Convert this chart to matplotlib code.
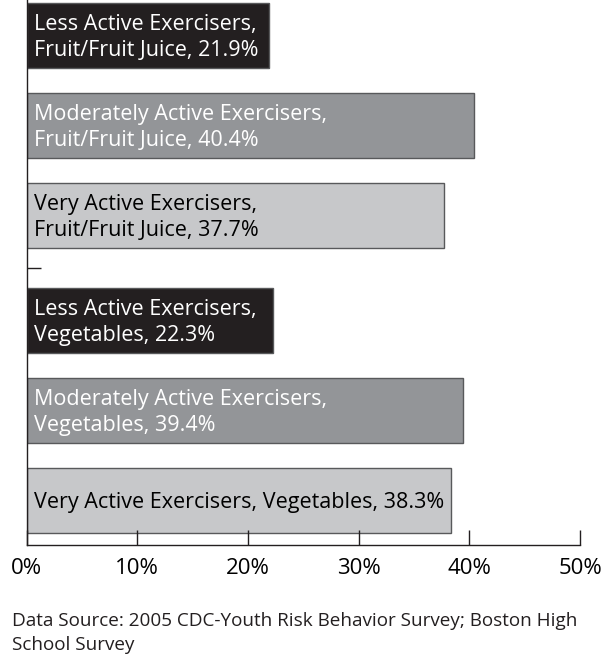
import matplotlib
matplotlib.use("Agg")
import matplotlib.pyplot as plt

# data
labels = [
    "Less Active Exercisers,\nFruit/Fruit Juice, 21.9%",
    "Moderately Active Exercisers,\nFruit/Fruit Juice, 40.4%",
    "Very Active Exercisers,\nFruit/Fruit Juice, 37.7%",
    "Less Active Exercisers,\nVegetables, 22.3%",
    "Moderately Active Exercisers,\nVegetables, 39.4%",
    "Very Active Exercisers, Vegetables, 38.3%",
]
values = [21.9, 40.4, 37.7, 22.3, 39.4, 38.3]
levels = ["less", "moderate", "very", "less", "moderate", "very"]
xticks = [0, 10, 20, 30, 40, 50]
xticklabels = ["0%", "10%", "20%", "30%", "40%", "50%"]
source = "Data Source: 2005 CDC-Youth Risk Behavior Survey; Boston High\nSchool Survey"

fill = {"less": "#231f20", "moderate": "#939598", "very": "#c7c8ca"}
txtc = {"less": "white", "moderate": "white", "very": "black"}

plt.rcParams["font.family"] = ["Open Sans", "DejaVu Sans"]

# second group is pushed down a bit
ypos = [0, 1, 2, 3 + 1 / 6, 4 + 1 / 6, 5 + 1 / 6]

fig = plt.figure(figsize=(6.08, 6.54), dpi=100)
ax = fig.add_axes([26.7 / 608, 1 - 545 / 654, (580 - 26.7) / 608, 545 / 654])

ax.barh(ypos, values, height=0.72, color=[fill[l] for l in levels],
        edgecolor="#58595b", linewidth=1.0)
for y, lab, lv in zip(ypos, labels, levels):
    ax.text(0.65, y + 0.02, lab, color=txtc[lv], fontsize=15.5, va="center", ha="left",
            linespacing=1.36)

ax.set_xlim(0, 50)
ax.set_ylim(5.66, -0.397)
ax.set_xticks(xticks)
ax.set_xticklabels(xticklabels, fontsize=16)
ax.set_yticks([2.583])
ax.set_yticklabels([])
ax.tick_params(axis="x", direction="in", length=11, width=1, color="#231f20", pad=9)
ax.tick_params(axis="y", direction="in", length=10, width=1, color="#231f20")
for s in ("top", "right"):
    ax.spines[s].set_visible(False)
for s in ("left", "bottom"):
    ax.spines[s].set_color("#231f20")
    ax.spines[s].set_linewidth(1)

fig.text(12 / 608, 1 - 612 / 654, source, fontsize=13.6, color="#231f20",
         va="top", ha="left", linespacing=1.42)

fig.savefig("out.png", dpi=100)
